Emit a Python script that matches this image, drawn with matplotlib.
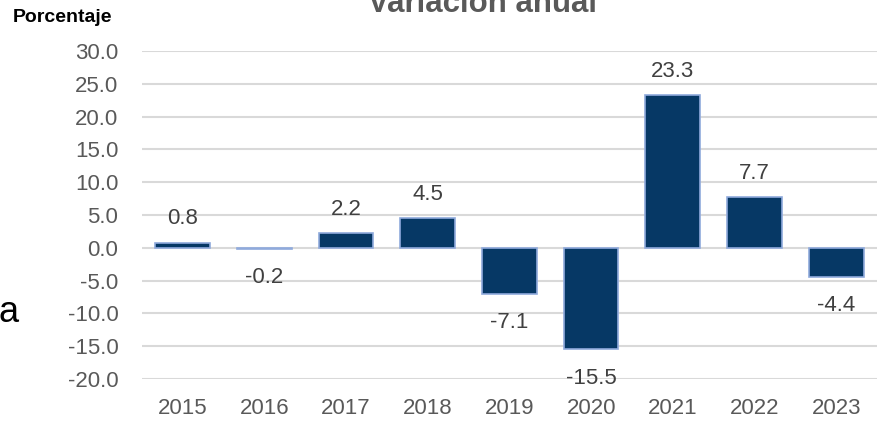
import matplotlib.pyplot as plt

anios = ['2015', '2016', '2017', '2018', '2019', '2020', '2021', '2022', '2023']
variacion = [0.8, -0.2, 2.2, 4.5, -7.1, -15.5, 23.3, 7.7, -4.4]
ticks_y = [-20, -15, -10, -5, 0, 5, 10, 15, 20, 25, 30]

plt.rcParams['font.family'] = ['Liberation Sans', 'DejaVu Sans']

fig = plt.figure(figsize=(8.79, 4.22), dpi=100)
ax = fig.add_axes([0.1615, 0.1019, 0.8362, 0.7772])

x = range(len(anios))
barras = ax.bar(x, variacion, width=0.67, color='#063865', edgecolor='#8FAADC',
                linewidth=1.2, zorder=3)

for xi, v in zip(x, variacion):
    if v >= 0:
        ax.annotate(f'{v:.1f}', (xi, v), xytext=(0, 9.5), textcoords='offset points',
                    ha='center', va='bottom', fontsize=16, color='#404040')
    else:
        ax.annotate(f'{v:.1f}', (xi, v), xytext=(0, -13), textcoords='offset points',
                    ha='center', va='top', fontsize=16, color='#404040')

ax.set_ylim(-20, 30)
ax.set_xlim(-0.5, len(anios) - 0.5)
ax.set_yticks(ticks_y)
ax.set_yticklabels([f'{t:.1f}' for t in ticks_y])
ax.set_xticks(list(x))
ax.set_xticklabels(anios)
ax.tick_params(axis='both', length=0, labelsize=16, labelcolor='#595959')
ax.tick_params(axis='y', pad=17)
ax.tick_params(axis='x', pad=14)
ax.grid(axis='y', color='#D9D9D9', linewidth=1.5, zorder=0)
for s in ax.spines.values():
    s.set_visible(False)

fig.text(0.549, 1 - 12 / 422, 'Variación anual', ha='center', va='baseline',
         fontsize=22.5, fontweight='bold', color='#595959')
fig.text(0.015, 1 - 18 / 422, 'Porcentaje', ha='left', va='center',
         fontsize=14, fontweight='bold', color='black')
fig.text(-0.002, 1 - 312 / 422, 'a', ha='left', va='center', fontsize=26, color='black')

fig.savefig('out.png', dpi=100)
